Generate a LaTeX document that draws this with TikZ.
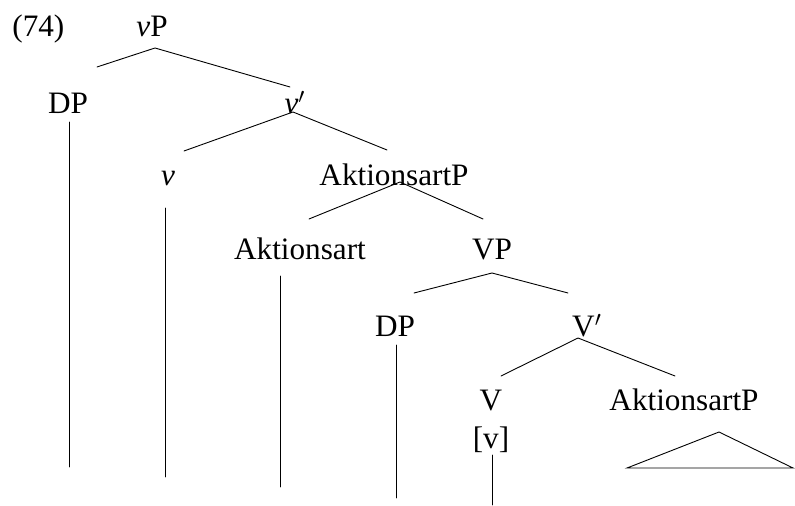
\documentclass[tikz,border=0pt]{standalone}
\usepackage{fontspec}
\setmainfont{Liberation Serif}
\usepackage{tikz}

\begin{document}
\begin{tikzpicture}[
    x=0.5pt, y=-0.5pt,
    font=\fontsize{15.6}{18}\selectfont,
    cat/.style={anchor=base, inner sep=0pt},
    br/.style={draw, line width=0.45pt, line cap=round},
  ]
    \useasboundingbox (0,0) rectangle (795,506);
    % --- labels --------------------------------------------------------
    \node[cat, anchor=base west] (ex) at (12,37) {(74)};
    \node[cat] (vP)    at (152,37)  {\textit{v}P};
    \node[cat] (DPa)   at (68,114)  {DP};
    \node[cat] (vbar)  at (295,114) {\textit{v}$'$};
    \node[cat] (v)     at (168,186) {\textit{v}};
    \node[cat] (AktP)  at (394,186) {AktionsartP};
    \node[cat] (Akt)   at (300,260) {Aktionsart};
    \node[cat] (VP)    at (492,260) {VP};
    \node[cat] (DPb)   at (395,337) {DP};
    \node[cat] (Vbar)  at (587,337) {V$'$};
    \node[cat] (V)     at (491,410) {V};
    \node[cat] (Vfeat) at (491,448) {[v]};
    \node[cat] (AktPb) at (684,410) {AktionsartP};
    % --- branches ------------------------------------------------------
    \draw[br] ([shift={(29,-47)}]DPa.base) -- ([shift={(3,11)}]vP.base)
              -- ([shift={(-5,-27)}]vbar.base);
    \draw[br] ([shift={(16,-35)}]v.base) -- ([shift={(-2,-2)}]vbar.base)
              -- ([shift={(-7,-36)}]AktP.base);
    \draw[br] ([shift={(9,-41)}]Akt.base) -- ([shift={(6,-4)}]AktP.base)
              -- ([shift={(-9,-41)}]VP.base);
    \draw[br] ([shift={(19,-44)}]DPb.base) -- ([shift={(0,13)}]VP.base)
              -- ([shift={(-19,-44)}]Vbar.base);
    \draw[br] ([shift={(10,-34)}]V.base) -- ([shift={(-9,1)}]Vbar.base)
              -- ([shift={(-9,-34)}]AktPb.base);
    % --- stems and triangle --------------------------------------------
    \draw[br] ([shift={(1,8)}]DPa.base)   -- ++(0,345);
    \draw[br] ([shift={(-3,22)}]v.base)   -- ++(0,269);
    \draw[br] ([shift={(-20,16)}]Akt.base) -- ++(0,211);
    \draw[br] ([shift={(1,8)}]DPb.base)   -- ++(0,153);
    \draw[br] ([shift={(1,7)}]Vfeat.base) -- ++(0,50);
    \draw[br, line join=miter] ([shift={(35,22)}]AktPb.base)
              -- ++(-92,36) -- ++(166,0) -- cycle;
\end{tikzpicture}
\end{document}
